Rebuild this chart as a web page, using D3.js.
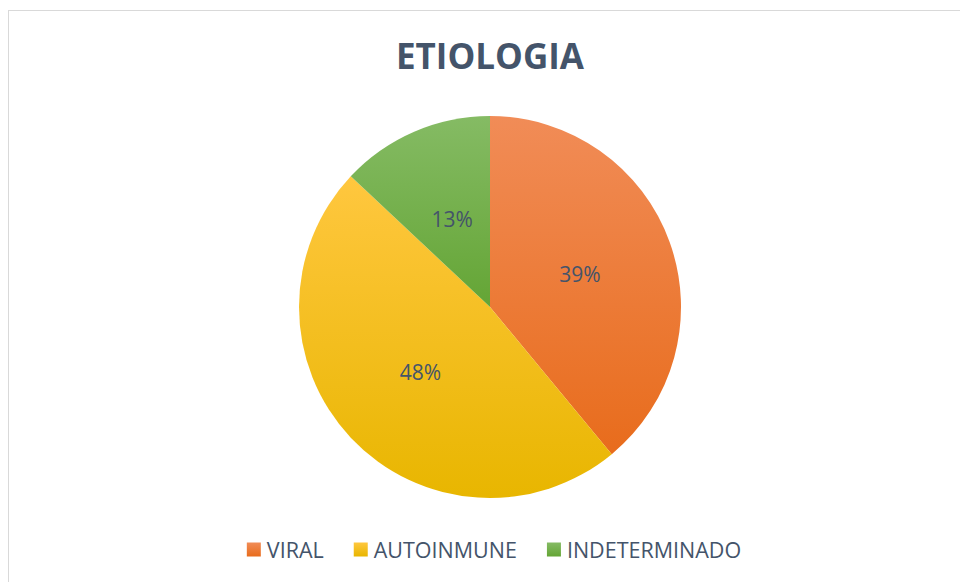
<!DOCTYPE html>
<html><head><meta charset="utf-8">
<script src="https://cdn.jsdelivr.net/npm/d3@7"></script>
<style>html,body{margin:0;padding:0;background:#fff;}svg{display:block;}</style>
</head><body>
<svg id="chart" width="960" height="582"></svg>
<script>
const title = "ETIOLOGIA";
const categories = ["VIRAL", "AUTOINMUNE", "INDETERMINADO"];
const values = [39, 48, 13];
const colorsTop = ["#F18C57", "#FFC73F", "#85BB64"];
const colorsBottom = ["#E86C1C", "#E8B600", "#64A535"];

const svg = d3.select("#chart");
const W = 960, H = 582;
const textColor = "#44546A";
const font = "'Open Sans', 'Noto Sans', sans-serif";

svg.append("rect").attr("x", 8.5).attr("y", 10.5).attr("width", W).attr("height", H)
  .attr("fill", "#fff").attr("stroke", "#D9D9D9").attr("stroke-width", 1);

svg.append("text").attr("x", 490).attr("y", 69).attr("text-anchor", "middle")
  .attr("font-family", font).attr("font-weight", "bold").attr("font-size", 35)
  .attr("fill", textColor).text(title);

const defs = svg.append("defs");
categories.forEach((c, i) => {
  const g = defs.append("linearGradient").attr("id", "grad" + i)
    .attr("x1", 0).attr("y1", 0).attr("x2", 0).attr("y2", 1);
  g.append("stop").attr("offset", "0%").attr("stop-color", colorsTop[i]);
  g.append("stop").attr("offset", "100%").attr("stop-color", colorsBottom[i]);
});

const cx = 490, cy = 307, R = 191;
const pie = d3.pie().sort(null).value(d => d)(values);
const arc = d3.arc().innerRadius(0).outerRadius(R);
const labelArc = d3.arc().innerRadius(R * 0.5).outerRadius(R * 0.5);
const fmt = d3.format(".0%");
const total = d3.sum(values);

const g = svg.append("g").attr("transform", `translate(${cx},${cy})`);
g.selectAll("path.slice").data(pie).join("path").attr("class", "slice")
  .attr("d", arc).attr("fill", (d, i) => `url(#grad${i})`);
g.selectAll("text.lbl").data(pie).join("text").attr("class", "lbl")
  .attr("transform", d => `translate(${labelArc.centroid(d)})`)
  .attr("text-anchor", "middle").attr("dy", "0.35em")
  .attr("font-family", font).attr("font-size", 21).attr("fill", textColor)
  .text(d => fmt(d.data / total));

// legend
const leg = svg.append("g");
const sq = 14, gapText = 6, gapItem = 30;
const items = leg.selectAll("g").data(categories).join("g");
items.append("rect").attr("width", sq).attr("height", sq).attr("y", -sq / 2 - 0.5)
  .attr("fill", (d, i) => `url(#grad${i})`);
items.append("text").attr("x", sq + gapText).attr("dy", "0.36em")
  .attr("font-family", font).attr("font-size", 21.5).attr("fill", textColor).text(d => d);
let x = 0;
const widths = [];
items.each(function () {
  const w = sq + gapText + d3.select(this).select("text").node().getComputedTextLength();
  widths.push(w);
});
items.attr("transform", (d, i) => {
  const t = `translate(${x},0)`;
  x += widths[i] + gapItem;
  return t;
});
const totalW = x - gapItem;
leg.attr("transform", `translate(${494 - totalW / 2},550)`);
</script>
</body></html>
